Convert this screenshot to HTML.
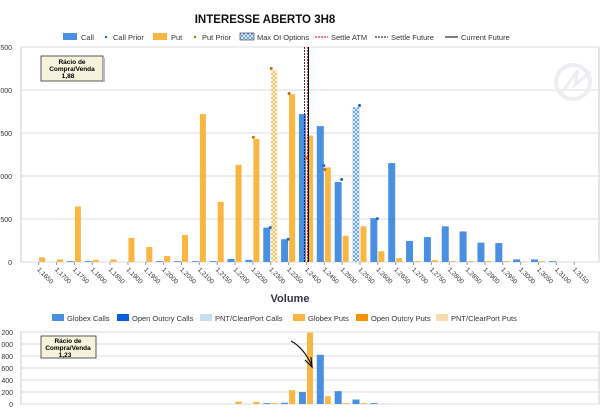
<!DOCTYPE html>
<html><head><meta charset="utf-8"><style>
body{margin:0;background:#fff;}
svg text{font-family:"Liberation Sans",sans-serif;}
</style></head><body>
<svg id="s" width="612" height="415" xmlns="http://www.w3.org/2000/svg">
<defs>
<pattern id="hb" width="4" height="4" patternUnits="userSpaceOnUse"><rect width="4" height="4" fill="#4a90e2"/><path d="M0 0L4 4M4 0L0 4" stroke="#fff" stroke-width="0.8"/></pattern>
<pattern id="ho" width="4" height="4" patternUnits="userSpaceOnUse"><rect width="4" height="4" fill="#f9b642"/><path d="M0 0L4 4M4 0L0 4" stroke="#fff" stroke-width="0.8"/></pattern>
</defs>
<text x="265" y="23" font-size="11.5" font-weight="bold" text-anchor="middle" fill="#111">INTERESSE ABERTO 3H8</text>
<g font-size="7.5" fill="#333">
<rect x="63" y="33" width="14" height="7" fill="#4a90e2"/><text x="81" y="40">Call</text>
<circle cx="106" cy="37" r="1.2" fill="#1a66d0"/><text x="113" y="40">Call Prior</text>
<rect x="153" y="33" width="14" height="7" fill="#f9b642"/><text x="171" y="40">Put</text>
<circle cx="195" cy="37" r="1.2" fill="#c47000"/><text x="202" y="40">Put Prior</text>
<rect x="240" y="33" width="14" height="7" fill="url(#hb)" stroke="#333" stroke-width="0.6"/><text x="257" y="40">Max OI Options</text>
<line x1="315" y1="37" x2="328" y2="37" stroke="#e00" stroke-dasharray="2,1"/><text x="331" y="40">Settle ATM</text>
<line x1="375" y1="37" x2="388" y2="37" stroke="#000" stroke-dasharray="2,1"/><text x="391" y="40">Settle Future</text>
<line x1="445" y1="37" x2="458" y2="37" stroke="#000"/><text x="461" y="40">Current Future</text>
</g>
<g id="top"></g>
<text x="290" y="302" font-size="11" font-weight="bold" text-anchor="middle" fill="#334">Volume</text>
<g font-size="7.5" fill="#333">
<rect x="52" y="314" width="12" height="7" fill="#4a90e2"/><text x="67" y="321">Globex Calls</text>
<rect x="117" y="314" width="12" height="7" fill="#0a5ed7"/><text x="132" y="321">Open Outcry Calls</text>
<rect x="200" y="314" width="12" height="7" fill="#c8dcf4"/><text x="215" y="321">PNT/ClearPort Calls</text>
<rect x="293" y="314" width="12" height="7" fill="#f9b642"/><text x="308" y="321">Globex Puts</text>
<rect x="356" y="314" width="12" height="7" fill="#f59300"/><text x="371" y="321">Open Outcry Puts</text>
<rect x="436" y="314" width="12" height="7" fill="#f8dcb0"/><text x="451" y="321">PNT/ClearPort Puts</text>
</g>
<g id="bot"></g>
</svg>
<script>
var NS="http://www.w3.org/2000/svg";
function el(p,t,a,tx){var e=document.createElementNS(NS,t);for(var k in a)e.setAttribute(k,a[k]);if(tx!=null)e.textContent=tx;p.appendChild(e);return e;}
var T=document.getElementById('top'),B=document.getElementById('bot');
function cx(i){return 38.7+i*17.85;}
var y0=262,ppu=43/500;
el(T,'rect',{x:21,y:47,width:578,height:215,fill:'#fff',stroke:'#ccc'});
var lab=['0','500','000','500','000','500'];
for(var k=0;k<=5;k++){var y=y0-k*43;el(T,'line',{x1:21,y1:y,x2:599,y2:y,stroke:'#ddd'});el(T,'text',{x:12,y:y+3,'font-size':7,'text-anchor':'end',fill:'#333'},lab[k]);}
var calls=[0,0,10,10,0,0,0,10,10,10,10,35,25,400,265,1720,1580,930,1800,510,1150,245,290,415,355,225,220,30,30,10,0];
var puts=[55,30,645,25,30,280,175,70,315,1720,700,1130,1430,2230,1950,1470,1100,305,415,125,45,10,20,10,10,10,10,5,10,0,0];
for(var i=0;i<31;i++){var c=cx(i);
 if(calls[i]>0){var h=calls[i]*ppu;el(T,'rect',{x:c-7.5,y:y0-h,width:7,height:h,fill:i==18?'url(#hb)':'#4a90e2'});}
 if(puts[i]>0){var h=puts[i]*ppu;el(T,'rect',{x:c+0.5,y:y0-h,width:6,height:h,fill:i==13?'url(#ho)':'#f9b642'});}
 el(T,'line',{x1:c,y1:262,x2:c,y2:265,stroke:'#999'});
 el(T,'text',{x:c-2,y:270,'font-size':6.5,fill:'#333',transform:'rotate(45 '+(c-2)+' 270)'},'1,'+(1650+50*i));
}
var cp=[[13,400],[14,265],[16,1120],[17,960],[18,1820],[19,505]];
cp.forEach(function(p){el(T,'circle',{cx:cx(p[0])-0.5,cy:y0-p[1]*ppu,r:1.5,fill:'#1a66d0'});});
var pp=[[12,1450],[13,2250],[14,1960],[15,1210],[16,1075]];
pp.forEach(function(p){el(T,'circle',{cx:cx(p[0])+0.5,cy:y0-p[1]*ppu,r:1.5,fill:'#c47000'});});
el(T,'line',{x1:304.5,y1:47,x2:304.5,y2:262,stroke:'#000','stroke-dasharray':'2,1','stroke-width':0.8});
el(T,'line',{x1:307.5,y1:47,x2:307.5,y2:262,stroke:'#e00','stroke-dasharray':'2,1','stroke-width':0.8});
el(T,'line',{x1:308.5,y1:47,x2:308.5,y2:262,stroke:'#000','stroke-width':1});
el(T,'rect',{x:41,y:56,width:62,height:25,fill:'#f5f3dc',stroke:'#333','stroke-width':0.8});
el(T,'rect',{x:103,y:58,width:2,height:24,fill:'#bbb'});
el(T,'text',{x:72,y:64,'font-size':6.5,'font-weight':'bold','text-anchor':'middle'},'Rácio de');
el(T,'text',{x:72,y:71,'font-size':6.5,'font-weight':'bold','text-anchor':'middle'},'Compra/Venda');
el(T,'text',{x:68,y:78,'font-size':6.5,'font-weight':'bold','text-anchor':'middle'},'1,88');
el(T,'circle',{cx:573,cy:82,r:17,fill:'none',stroke:'#eceef1','stroke-width':4});
el(T,'path',{d:'M560 95 L578 70 L575 85 L590 72',fill:'none',stroke:'#eceef1','stroke-width':3});
var b0=404,bp=72/1200;
el(B,'rect',{x:21,y:332,width:578,height:72,fill:'#fff',stroke:'#ccc'});
var bl=['0','200','400','600','800','000','200'];
for(var k=0;k<=6;k++){var y=b0-k*12;el(B,'line',{x1:21,y1:y,x2:599,y2:y,stroke:'#ddd'});el(B,'text',{x:13,y:y+3,'font-size':7,'text-anchor':'end',fill:'#333'},bl[k]);}
var bc={13:15,14:20,15:200,16:820,17:215,18:75,19:15};
var bpu={11:40,12:35,13:15,14:230,15:1190,16:130,17:15,18:15};
for(var i in bc){var h=bc[i]*bp;el(B,'rect',{x:cx(+i)-7.5,y:b0-h,width:7,height:h,fill:'#4a90e2'});}
for(var i in bpu){var h=bpu[i]*bp;el(B,'rect',{x:cx(+i)+0.5,y:b0-h,width:6,height:h,fill:'#f9b642'});}
el(B,'path',{d:'M291 341 Q304 348 312 366',fill:'none',stroke:'#111','stroke-width':1.2});
el(B,'path',{d:'M305 360 L312 367 L311 357',fill:'none',stroke:'#111','stroke-width':1.2});
el(B,'rect',{x:41,y:336,width:55,height:22,fill:'#f5f3dc',stroke:'#333','stroke-width':0.8});
el(B,'text',{x:68,y:343,'font-size':6.5,'font-weight':'bold','text-anchor':'middle'},'Rácio de');
el(B,'text',{x:68,y:350,'font-size':6.5,'font-weight':'bold','text-anchor':'middle'},'Compra/Venda');
el(B,'text',{x:65,y:357,'font-size':6.5,'font-weight':'bold','text-anchor':'middle'},'1,23');
</script>
</body></html>
